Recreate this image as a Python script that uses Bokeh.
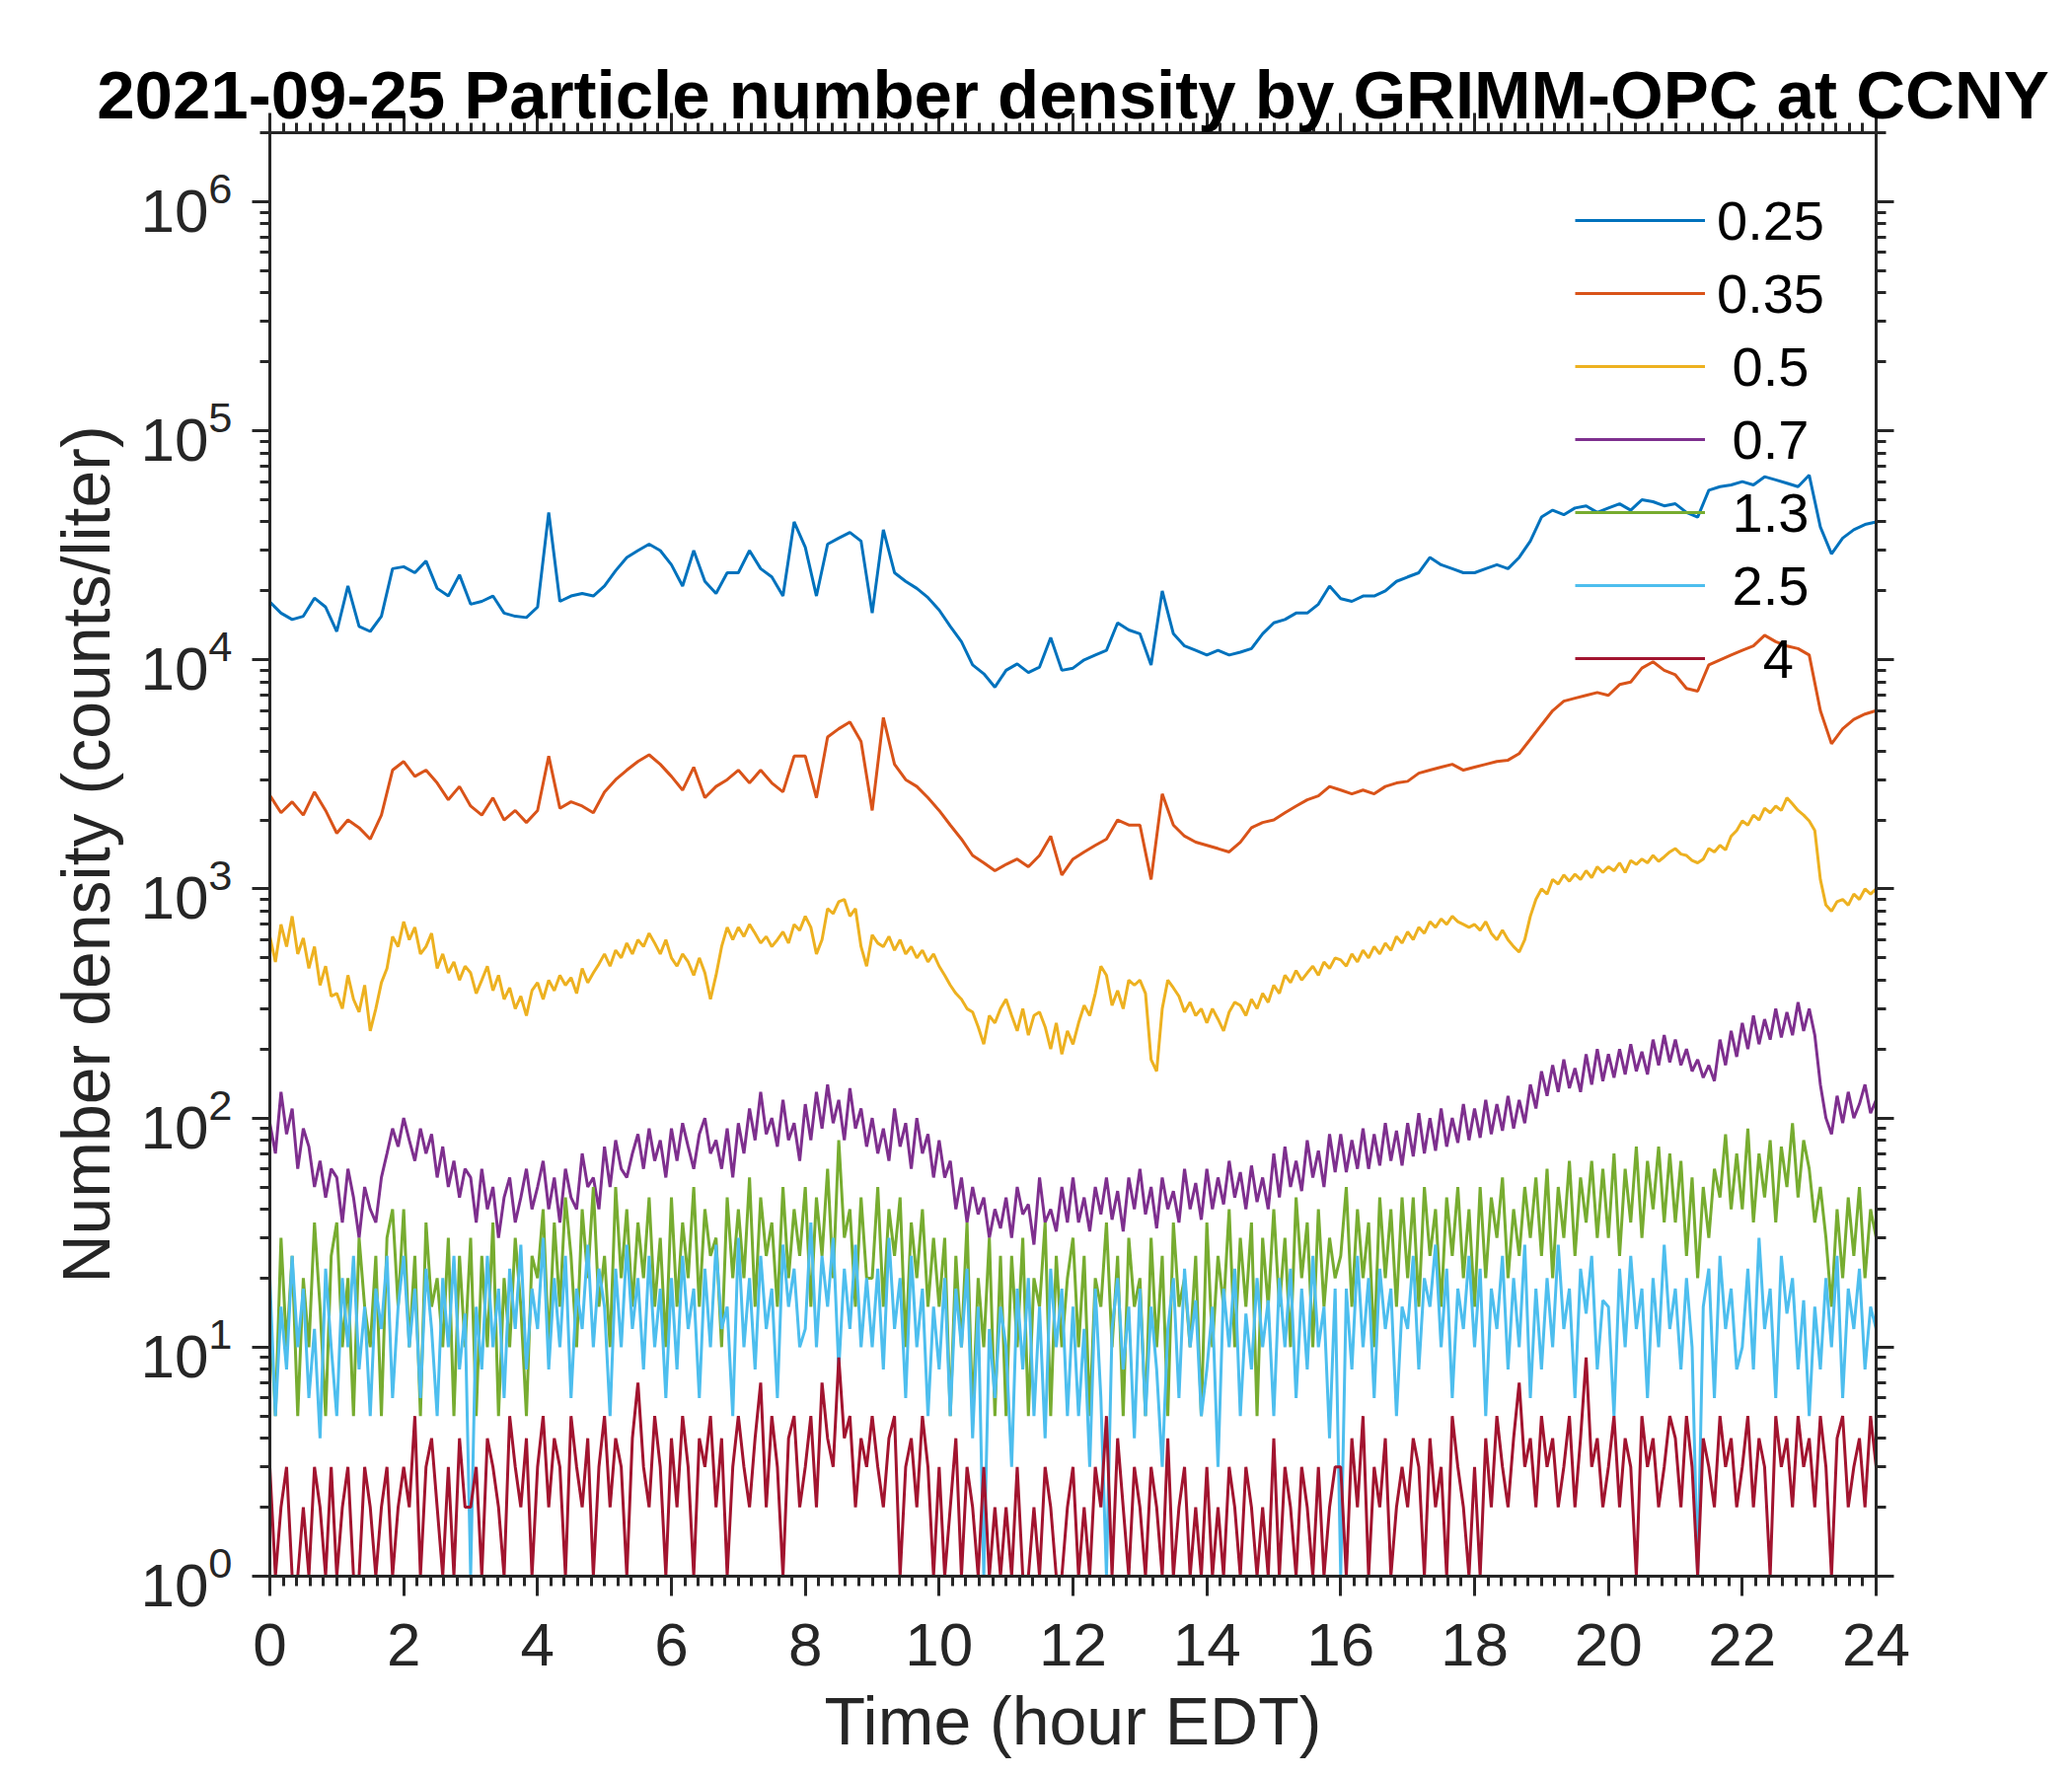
from bokeh.plotting import figure
from bokeh.models import (Range1d, LinearAxis, LogAxis, SingleIntervalTicker,
                          LogTicker, Legend, LegendItem, CustomJSTickFormatter)
from bokeh.embed import file_html
from bokeh.resources import INLINE

# sample times (minutes after midnight, EDT): 10-min for the two smooth
# channels, 5-min for the noisier ones
minutes10 = list(range(0, 1441, 10))
minutes5 = list(range(0, 1441, 5))
hours10 = [m / 60 for m in minutes10]
hours5 = [m / 60 for m in minutes5]

# particle size channels (um) and values (counts/liter)
sizes = ["0.25", "0.35", "0.5", "0.7", "1.3", "2.5", "4"]
legend_labels = ["0.25", "0.35", "\u00a00.5", "\u00a00.7", "\u00a01.3", "\u00a02.5",
                 "\u00a0\u00a0\u00a04"]
colors = ["#0072BD", "#D95319", "#EDB120", "#7E2F8E", "#77AC30", "#4DBEEE", "#A2142F"]

n025 = [17900, 16000, 15000, 15500, 18600, 17000,
        13300, 21000, 14000, 13300, 15500, 25000,
        25500, 24000, 27000, 20500, 19000, 23500,
        17500, 18000, 19000, 16000, 15500, 15300,
        17000, 44000, 18000, 19000, 19500, 19000,
        21000, 24500, 28000, 30000, 32000, 30000,
        26000, 21000, 30000, 22000, 19500, 24000,
        24000, 30000, 25000, 23000, 19000, 40000,
        31000, 19000, 32000, 34000, 36000, 33000,
        16000, 37000, 24000, 22000, 20500, 18700,
        16500, 14000, 12000, 9500, 8700, 7600,
        9000, 9600, 8800, 9300, 12500, 9000,
        9200, 10000, 10500, 11000, 14500, 13500,
        13000, 9500, 20000, 13000, 11500, 11000,
        10500, 11000, 10500, 10800, 11200, 13000,
        14500, 15000, 16000, 16000, 17500, 21000,
        18500, 18000, 19000, 19000, 20000, 22000,
        23000, 24000, 28000, 26000, 25000, 24000,
        24000, 25000, 26000, 25000, 28000, 33000,
        42000, 45000, 43000, 46000, 47000, 44000,
        46000, 48000, 45000, 50000, 49000, 47000,
        48000, 44000, 42000, 55000, 57000, 58000,
        60000, 58000, 63000, 61000, 59000, 57000,
        64000, 38000, 29000, 34000, 37000, 39000,
        40000]

n035 = [2560, 2150, 2400, 2100, 2650, 2200,
        1750, 2000, 1850, 1650, 2100, 3300,
        3600, 3100, 3300, 2900, 2450, 2800,
        2300, 2100, 2500, 2000, 2200, 1950,
        2200, 3800, 2250, 2400, 2300, 2150,
        2650, 3000, 3300, 3600, 3850, 3500,
        3100, 2700, 3400, 2500, 2800, 3000,
        3300, 2900, 3300, 2900, 2650, 3800,
        3800, 2500, 4600, 5000, 5350, 4400,
        2200, 5600, 3500, 3000, 2800, 2500,
        2200, 1900, 1650, 1400, 1300, 1200,
        1280, 1350, 1250, 1400, 1700, 1150,
        1350, 1450, 1550, 1650, 2000, 1900,
        1900, 1100, 2600, 1900, 1700, 1600,
        1550, 1500, 1450, 1600, 1850, 1950,
        2000, 2150, 2300, 2450, 2550, 2800,
        2700, 2600, 2700, 2600, 2800, 2900,
        2950, 3200, 3300, 3400, 3500, 3300,
        3400, 3500, 3600, 3650, 3900, 4500,
        5200, 6000, 6600, 6800, 7000, 7200,
        7000, 7800, 8000, 9200, 9800, 9000,
        8600, 7500, 7300, 9500, 10000, 10500,
        11000, 11500, 12800, 12000, 11500, 11200,
        10500, 6000, 4300, 5000, 5500, 5800,
        6000]

n05 = [620, 480, 700, 560, 760, 520, 610, 450, 560, 380, 460, 340,
       350, 300, 420, 330, 290, 380, 240, 300, 390, 450, 620, 560,
       720, 600, 680, 520, 560, 640, 450, 520, 430, 480, 400, 460,
       430, 350, 400, 460, 360, 420, 330, 370, 300, 340, 280, 360,
       390, 330, 400, 360, 420, 380, 410, 350, 450, 390, 430, 470,
       520, 460, 540, 500, 580, 520, 600, 560, 640, 580, 520, 600,
       500, 460, 520, 480, 420, 500, 430, 330, 420, 560, 680, 600,
       680, 620, 700, 640, 580, 620, 560, 600, 650, 580, 700, 660,
       760, 680, 520, 600, 820, 780, 880, 900, 760, 820, 560, 460,
       630, 580, 560, 620, 540, 600, 520, 560, 500, 540, 480, 520,
       460, 420, 380, 350, 330, 300, 290, 250, 210, 280, 260, 300,
       330, 280, 240, 300, 230, 280, 290, 250, 200, 260, 190, 240,
       210, 260, 310, 280, 350, 460, 420, 310, 360, 300, 400, 380,
       400, 350, 180, 160, 300, 400, 370, 340, 290, 320, 280, 300,
       260, 300, 270, 240, 290, 320, 310, 280, 330, 300, 350, 320,
       380, 350, 420, 390, 440, 400, 430, 460, 420, 480, 450, 500,
       490, 460, 520, 480, 540, 500, 560, 520, 580, 540, 620, 580,
       650, 600, 680, 640, 720, 680, 740, 700, 760, 720, 700, 680,
       700, 660, 720, 640, 600, 660, 600, 560, 530, 600, 760, 900,
       1000, 950, 1100, 1050, 1150, 1080, 1160, 1100, 1200, 1120, 1250, 1180,
       1250, 1200, 1300, 1180, 1330, 1280, 1350, 1300, 1400, 1320, 1380, 1450,
       1500, 1420, 1400, 1330, 1300, 1350, 1500, 1450, 1550, 1480, 1700, 1800,
       1980, 1900, 2100, 2000, 2250, 2150, 2300, 2200, 2500, 2350, 2200, 2100,
       1980, 1800, 1100, 850, 800, 880, 900, 850, 950, 900, 1000, 950,
       1000]

n07 = [95, 70, 130, 85, 110, 60, 90, 75, 50, 65, 45, 60,
       55, 35, 60, 45, 30, 50, 40, 35, 55, 70, 90, 75,
       100, 80, 65, 90, 70, 85, 55, 75, 50, 65, 45, 60,
       55, 35, 60, 40, 50, 30, 45, 55, 35, 45, 60, 40,
       50, 65, 40, 55, 35, 60, 45, 40, 70, 50, 55, 40,
       75, 50, 80, 60, 55, 70, 85, 60, 90, 65, 80, 55,
       90, 65, 95, 75, 60, 85, 100, 70, 80, 60, 90, 55,
       95, 70, 110, 80, 130, 85, 100, 75, 120, 80, 95, 65,
       115, 80, 130, 90, 140, 95, 120, 80, 135, 90, 110, 75,
       100, 70, 90, 65, 110, 75, 95, 60, 100, 70, 85, 55,
       80, 55, 65, 40, 55, 35, 50, 38, 45, 30, 40, 33,
       45, 30, 50, 38, 42, 28, 55, 35, 40, 32, 50, 35,
       55, 35, 45, 32, 50, 38, 55, 36, 48, 32, 55, 40,
       60, 38, 50, 33, 55, 40, 48, 35, 60, 40, 52, 36,
       60, 40, 55, 42, 65, 45, 58, 40, 62, 43, 55, 40,
       70, 45, 75, 50, 65, 48, 80, 55, 72, 50, 85, 58,
       85, 58, 80, 60, 90, 60, 85, 62, 95, 65, 88, 62,
       95, 68, 105, 70, 100, 72, 110, 75, 100, 78, 115, 80,
       110, 82, 120, 85, 115, 88, 125, 90, 120, 95, 140, 110,
       160, 125, 170, 130, 180, 135, 165, 130, 190, 140, 200, 145,
       190, 150, 200, 155, 210, 160, 195, 155, 220, 170, 230, 175,
       220, 170, 200, 160, 180, 150, 170, 145, 220, 170, 240, 185,
       260, 200, 280, 210, 270, 220, 300, 225, 290, 230, 320, 240,
       300, 230, 140, 100, 85, 125, 95, 130, 100, 115, 140, 105,
       120]

n13 = [15, 5, 30, 10, 25, 5, 20, 10, 35, 15, 5, 25,
       35, 10, 20, 5, 30, 15, 10, 25, 5, 30, 40, 15,
       40, 10, 25, 5, 35, 15, 20, 10, 30, 5, 25, 10,
       30, 5, 25, 10, 35, 5, 20, 10, 30, 15, 5, 25,
       20, 40, 10, 35, 15, 45, 25, 10, 40, 20, 50, 15,
       25, 10, 50, 20, 40, 15, 35, 20, 45, 15, 30, 10,
       45, 15, 35, 20, 50, 15, 40, 25, 30, 10, 45, 20,
       40, 20, 55, 15, 45, 25, 35, 15, 50, 20, 40, 25,
       50, 15, 45, 25, 60, 20, 80, 30, 40, 15, 45, 20,
       20, 50, 15, 40, 25, 45, 10, 35, 20, 40, 15, 30,
       15, 30, 5, 25, 10, 35, 5, 20, 10, 30, 5, 25,
       5, 25, 10, 30, 5, 20, 15, 35, 5, 25, 10, 20,
       30, 10, 25, 5, 20, 15, 35, 10, 25, 5, 30, 15,
       20, 5, 30, 10, 25, 5, 35, 15, 20, 10, 25, 5,
       35, 10, 25, 15, 40, 10, 30, 15, 35, 5, 30, 15,
       40, 15, 30, 10, 45, 20, 35, 10, 40, 15, 30, 20,
       25, 50, 15, 40, 20, 35, 10, 45, 20, 40, 15, 45,
       20, 45, 15, 50, 25, 40, 15, 45, 25, 50, 20, 40,
       15, 50, 20, 45, 30, 55, 20, 40, 25, 50, 30, 55,
       25, 60, 20, 50, 30, 65, 25, 55, 35, 65, 30, 60,
       30, 70, 25, 60, 35, 75, 30, 65, 40, 75, 35, 70,
       35, 65, 25, 55, 20, 50, 30, 60, 45, 85, 40, 70,
       40, 90, 35, 70, 45, 80, 35, 75, 50, 95, 45, 80,
       60, 35, 50, 30, 15, 40, 20, 45, 25, 50, 20, 40,
       30]

n25 = [20, 5, 15, 8, 25, 10, 18, 6, 12, 4, 22, 10,
       5, 20, 10, 25, 8, 15, 5, 18, 12, 25, 6, 15,
       25, 10, 18, 6, 22, 12, 5, 20, 10, 25, 8, 14,
       1, 15, 8, 25, 10, 18, 6, 22, 12, 28, 8, 18,
       12, 30, 8, 20, 10, 25, 6, 18, 12, 28, 10, 22,
       15, 5, 22, 10, 28, 12, 20, 8, 25, 10, 18, 6,
       20, 8, 25, 12, 18, 6, 22, 10, 28, 12, 15, 5,
       30, 10, 20, 8, 25, 12, 18, 6, 28, 15, 22, 10,
       12, 35, 10, 25, 15, 30, 8, 22, 12, 28, 10, 20,
       10, 22, 8, 30, 12, 20, 6, 25, 10, 18, 5, 15,
       8, 20, 5, 18, 10, 22, 4, 15, 1, 12, 6, 15,
       10, 3, 18, 8, 20, 5, 15, 4, 22, 10, 18, 5,
       15, 5, 12, 3, 18, 6, 1, 12, 20, 8, 15, 4,
       18, 5, 15, 8, 3, 12, 20, 6, 22, 10, 16, 5,
       8, 15, 3, 18, 10, 22, 5, 14, 8, 20, 10, 16,
       5, 20, 10, 22, 6, 18, 8, 25, 10, 15, 4, 18,
       1, 18, 8, 25, 10, 20, 6, 22, 12, 18, 5, 15,
       12, 25, 8, 20, 15, 28, 10, 22, 6, 18, 12, 25,
       10, 22, 5, 18, 12, 25, 8, 20, 10, 28, 6, 18,
       8, 20, 10, 28, 12, 18, 6, 22, 14, 25, 8, 16,
       15, 5, 22, 10, 25, 12, 18, 6, 20, 10, 28, 12,
       18, 8, 20, 10, 1, 15, 22, 6, 25, 12, 18, 8,
       10, 22, 8, 30, 12, 18, 6, 25, 14, 20, 8, 16,
       5, 15, 8, 20, 10, 25, 6, 18, 12, 22, 8, 15,
       12]

n40 = [3, 1, 2, 3, 1, 1, 2, 1, 3, 2, 1, 3,
       1, 2, 3, 1, 1, 3, 2, 1, 2, 3, 1, 2,
       3, 2, 5, 1, 3, 4, 2, 1, 3, 1, 4, 2,
       2, 3, 1, 4, 3, 2, 1, 5, 3, 2, 4, 1,
       3, 5, 2, 4, 3, 1, 5, 3, 2, 4, 1, 3,
       5, 2, 4, 3, 1, 4, 7, 3, 2, 5, 3, 1,
       4, 2, 5, 3, 1, 4, 3, 5, 2, 4, 1, 3,
       5, 3, 2, 4, 7, 2, 5, 3, 1, 4, 5, 2,
       3, 5, 2, 7, 4, 3, 9, 4, 5, 2, 4, 3,
       5, 3, 2, 4, 5, 1, 3, 4, 2, 5, 3, 1,
       3, 1, 2, 4, 1, 3, 2, 1, 3, 1, 2, 1,
       2, 1, 3, 1, 1, 2, 1, 3, 2, 1, 1, 2,
       3, 1, 2, 1, 3, 2, 5, 1, 4, 2, 1, 3,
       2, 1, 3, 2, 1, 4, 1, 2, 3, 1, 2, 1,
       3, 1, 2, 1, 3, 2, 1, 3, 2, 1, 2, 1,
       4, 1, 3, 2, 1, 3, 2, 1, 3, 1, 2, 3,
       3, 1, 4, 2, 5, 1, 3, 2, 4, 1, 2, 3,
       2, 4, 3, 1, 4, 2, 3, 1, 5, 3, 2, 1,
       3, 1, 4, 2, 5, 3, 2, 4, 7, 3, 4, 2,
       5, 3, 4, 2, 3, 5, 2, 4, 9, 3, 4, 2,
       3, 5, 2, 4, 3, 1, 5, 3, 4, 2, 3, 5,
       4, 2, 5, 3, 1, 4, 3, 2, 5, 3, 4, 2,
       3, 5, 2, 4, 3, 1, 5, 3, 4, 2, 5, 3,
       4, 2, 5, 3, 1, 4, 5, 2, 3, 4, 2, 5,
       3]

series = [n025, n035, n05, n07, n13, n25, n40]
times = [hours10, hours10, hours5, hours5, hours5, hours5, hours5]

AXIS_COLOR = "#262626"
FONT = "Liberation Sans"

p = figure(title="2021-09-25 Particle number density by GRIMM-OPC at CCNY",
           frame_width=1628, frame_height=1463,
           x_range=Range1d(0, 24), y_range=Range1d(1, 2e6),
           y_axis_type="log", output_backend="svg", toolbar_location=None,
           min_border_left=273, min_border_right=183,
           min_border_top=134, min_border_bottom=150,
           background_fill_color="white", border_fill_color="white",
           outline_line_color=None)
p.xgrid.visible = False
p.ygrid.visible = False

p.title.text_font = FONT
p.title.text_font_size = "69px"
p.title.text_font_style = "bold"
p.title.text_color = "black"
p.title.align = "center"
p.title.standoff = -40

no_labels = CustomJSTickFormatter(code="return ''")


def style_axis(ax, tick_out):
    ax.axis_line_color = AXIS_COLOR
    ax.axis_line_width = 3
    ax.major_tick_line_color = AXIS_COLOR
    ax.major_tick_line_width = 3
    ax.minor_tick_line_color = AXIS_COLOR
    ax.minor_tick_line_width = 3
    ax.major_tick_in = 0
    ax.major_tick_out = tick_out
    ax.minor_tick_in = 0
    ax.minor_tick_out = 10
    ax.major_label_text_font = FONT
    ax.major_label_text_color = AXIS_COLOR
    ax.axis_label_text_font = FONT
    ax.axis_label_text_font_style = "normal"
    ax.axis_label_text_color = AXIS_COLOR


# bottom axis: hours
p.xaxis.ticker = SingleIntervalTicker(interval=2, num_minor_ticks=10)
style_axis(p.xaxis[0], 20)
p.xaxis.major_label_text_font_size = "62px"
p.xaxis.major_label_standoff = 28
p.xaxis.axis_label = "Time (hour EDT)"
p.xaxis.axis_label_text_font_size = "68px"
p.xaxis.axis_label_standoff = 15

# left axis: log decades shown as 10^n
p.yaxis.ticker = LogTicker(num_minor_ticks=10)
style_axis(p.yaxis[0], 18)
p.yaxis.major_label_text_font_size = "62px"
p.yaxis.major_label_standoff = 20
p.yaxis.axis_label = "Number density (counts/liter)"
p.yaxis.axis_label_text_font_size = "68px"
p.yaxis.axis_label_standoff = 14

# box: top and right axes with ticks only
top = LinearAxis(ticker=SingleIntervalTicker(interval=2, num_minor_ticks=10),
                 formatter=no_labels)
style_axis(top, 20)
top.major_label_standoff = 0
p.add_layout(top, "above")

right = LogAxis(ticker=LogTicker(num_minor_ticks=10), formatter=no_labels)
style_axis(right, 18)
p.add_layout(right, "right")

# data lines
items = []
for lab, t, vals, col in zip(legend_labels, times, series, colors):
    r = p.line(t, vals, line_color=col, line_width=3)
    items.append(LegendItem(label=lab, renderers=[r]))

legend = Legend(items=items, location="top_right", margin=52, padding=0, spacing=0,
                glyph_width=132, glyph_height=74, label_standoff=12,
                label_text_font=FONT, label_text_font_size="56px",
                label_text_color="black", background_fill_alpha=0,
                border_line_color=None)
p.add_layout(legend)

open("out.html", "w").write(file_html(p, INLINE))
